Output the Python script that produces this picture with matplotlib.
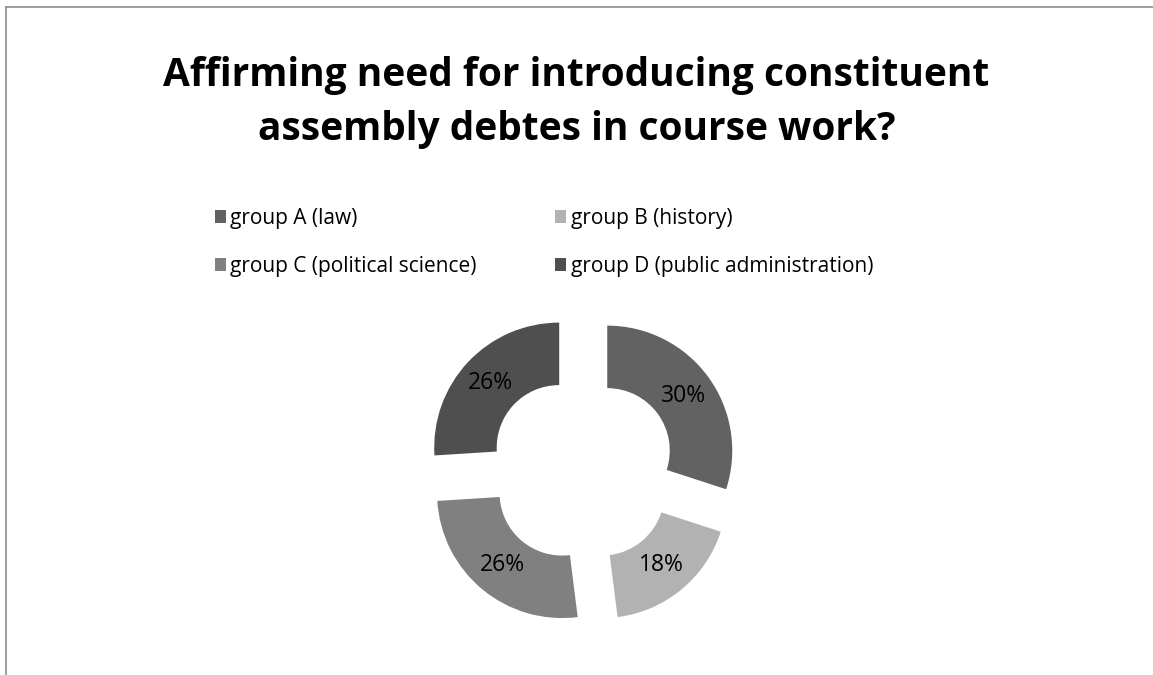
import matplotlib.pyplot as plt
from matplotlib.lines import Line2D

plt.rcParams['font.family'] = ['Open Sans', 'DejaVu Sans']

groups = ["group A (law)", "group B (history)",
          "group C (political science)", "group D (public administration)"]
shares = [30, 18, 26, 26]
colors = ["#626262", "#b2b2b2", "#808080", "#4f4f4f"]

fig = plt.figure(figsize=(11.53, 6.75), dpi=100)

# frame lines (top and left, as in the screenshot)
fig.add_artist(Line2D([6/1153, 1], [1 - 7/675, 1 - 7/675], color="#8c8c8c", lw=1.2))
fig.add_artist(Line2D([6/1153, 6/1153], [0, 1 - 7/675], color="#8c8c8c", lw=1.2))

fig.text(0.5, 0.848, "Affirming need for introducing constituent\nassembly debtes in course work?",
         ha="center", va="center", fontsize=28, fontweight="bold", linespacing=1.5)

ax = fig.add_axes([0.3313, 0.0089, 0.3469, 0.5926])
wedges, texts, autotexts = ax.pie(
    shares, colors=colors, startangle=90, counterclock=False,
    explode=[0.25] * 4, radius=1.0, autopct="%d%%", pctdistance=0.75,
    wedgeprops=dict(width=0.5, linewidth=0),
    textprops=dict(fontsize=16.5, color="black"))
ax.set_xlim(-1.6, 1.6)
ax.set_ylim(-1.6, 1.6)
ax.set_aspect("equal")
ax.axis("off")

# legend fills row by row: A B / C D
order = [0, 2, 1, 3]
fig.legend([wedges[i] for i in order], [groups[i] for i in order], ncol=2,
           loc="upper left", bbox_to_anchor=(0.17, 0.72),
           frameon=False, fontsize=15, handlelength=0.55, handleheight=0.55,
           handletextpad=0.2, columnspacing=3.75, labelspacing=1.3)

fig.savefig("out.png", dpi=100)
